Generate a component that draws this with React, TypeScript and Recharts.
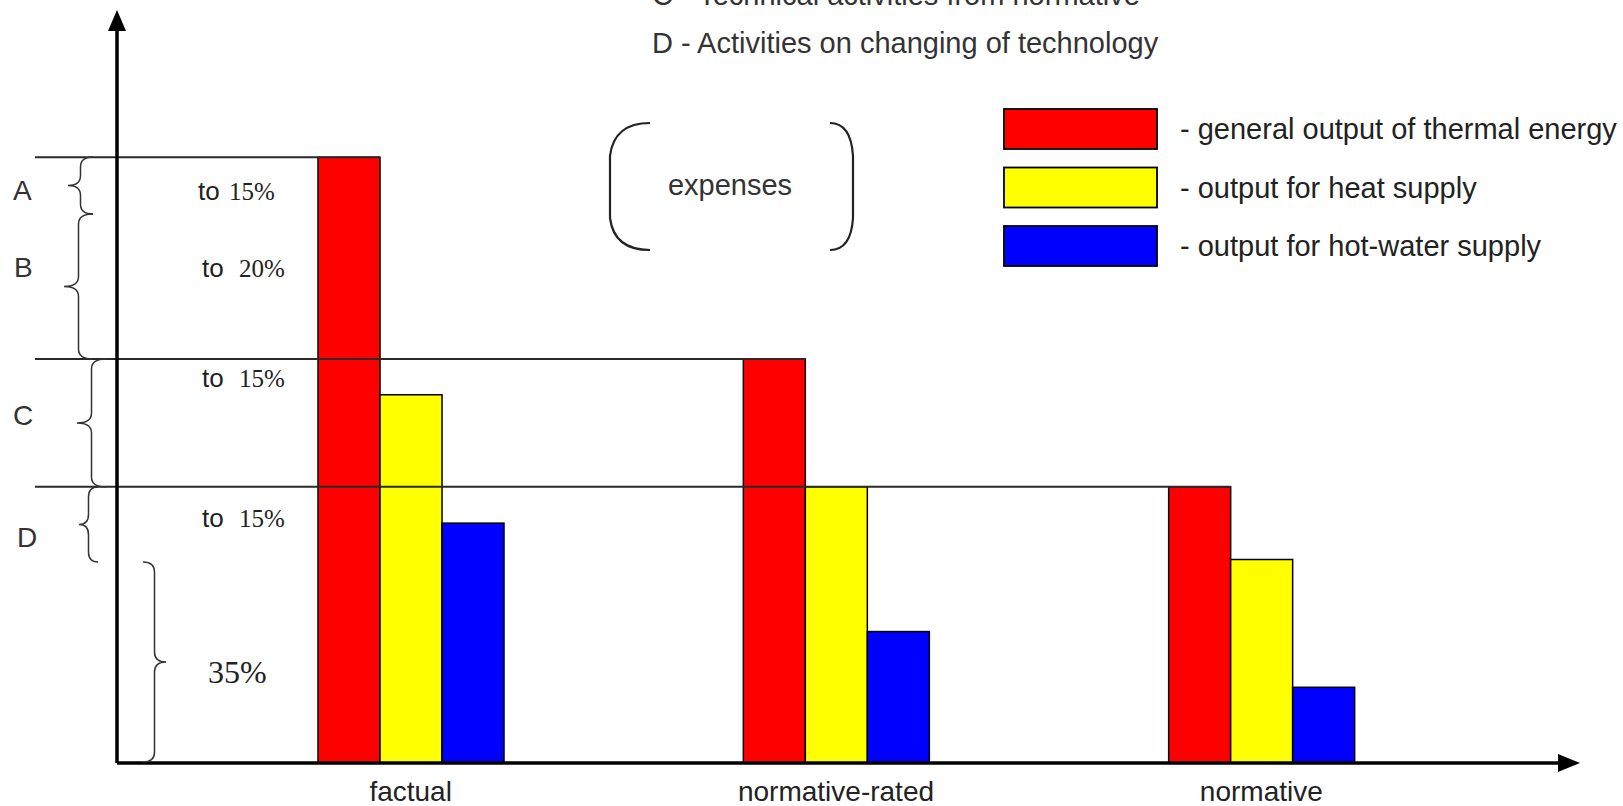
import React from 'react';
import { BarChart, Bar, XAxis, YAxis, Legend } from 'recharts';

// categories and series values (share of factual general output = 100)
const categories = ['factual', 'normative-rated', 'normative'];
const generalOutput = [100, 66.7, 45.6];
const heatSupply = [60.8, 45.6, 33.6];
const hotWaterSupply = [39.6, 21.7, 12.5];

const seriesNames = [
    '- general output of thermal energy',
    '- output for heat supply',
    '- output for hot-water supply',
];
const seriesColors = ['#ff0000', '#ffff00', '#0000ff'];

const topNotes = ['C - Technical activities from normative', 'D - Activities on changing of technology'];
const groupLetters = ['A', 'B', 'C', 'D'];
const groupShares = ['15%', '20%', '15%', '15%'];
const baseShare = '35%';

const data = categories.map((name, i) => ({
    name,
    red: generalOutput[i],
    yellow: heatSupply[i],
    blue: hotWaterSupply[i],
}));

const W = 1623;
const H = 806;
const SANS = '"Liberation Sans", Arial, sans-serif';
const SERIF = '"Liberation Serif", "Times New Roman", serif';

// left-pointing curly brace
const braceLeft = (x: number, y1: number, y2: number, w: number) => {
    const ym = (y1 + y2) / 2;
    const s = x + w / 2;
    const r = Math.min(10, (y2 - y1) / 4);
    return `M${x + w},${y1} Q${s},${y1} ${s},${y1 + r} L${s},${ym - r} Q${s},${ym} ${x},${ym} Q${s},${ym} ${s},${ym + r} L${s},${y2 - r} Q${s},${y2} ${x + w},${y2}`;
};
// right-pointing curly brace
const braceRight = (x: number, y1: number, y2: number, w: number) => {
    const ym = (y1 + y2) / 2;
    const s = x + w / 2;
    const r = Math.min(10, (y2 - y1) / 4);
    return `M${x},${y1} Q${s},${y1} ${s},${y1 + r} L${s},${ym - r} Q${s},${ym} ${x + w},${ym} Q${s},${ym} ${s},${ym + r} L${s},${y2 - r} Q${s},${y2} ${x},${y2}`;
};

// blue bars are drawn last, so they also carry the guide line at the red bar's top
const BlueShape = (props: any) => {
    const { x, y, width, height, payload, fill } = props;
    const base = y + height;
    const redY = base - (height * payload.red) / payload.blue;
    const redRight = x - width;
    return (
        <g>
            <rect x={x} y={y} width={width} height={height} fill={fill} stroke="#000" strokeWidth={1.5} />
            <line x1={35} x2={redRight} y1={redY} y2={redY} stroke="#2a2a2a" strokeWidth={2} />
        </g>
    );
};

const LegendContent = () => (
    <svg width={620} height={170}>
        {seriesNames.map((n, i) => (
            <g key={n} transform={`translate(0, ${i * 58.5})`}>
                <rect x={1} y={1} width={153} height={40} fill={seriesColors[i]} stroke="#000" strokeWidth={1.8} />
                <text x={177} y={31} fontSize={29} fontFamily={SANS} fill="#222">{n}</text>
            </g>
        ))}
    </svg>
);

const App: React.FC = () => {
    const lettersX = [13, 14, 13, 17];
    const lettersY = [200, 277, 425, 547];
    const toX = [198, 202, 202, 202];
    const shareX = [229, 239, 239, 239];
    const sharesY = [200, 277, 387, 527];
    return (
        <div style={{ position: 'absolute', left: 0, top: 0, width: W, height: H, background: '#fff' }}>
            <BarChart
                width={W}
                height={H}
                data={data}
                margin={{ top: 24, right: 50, bottom: 0, left: 116 }}
                barSize={62}
                barGap={0}
            >
                <XAxis
                    dataKey="name"
                    height={43}
                    padding={{ left: 81, right: 99 }}
                    axisLine={{ stroke: '#000', strokeWidth: 3.5 }}
                    tickLine={false}
                    tickMargin={12}
                    tick={{ fontSize: 28, fontFamily: SANS, fill: '#222' }}
                />
                <YAxis
                    domain={[0, 122]}
                    width={1}
                    tick={false}
                    tickLine={false}
                    axisLine={{ stroke: '#000', strokeWidth: 3.5 }}
                />
                <Legend
                    layout="horizontal"
                    verticalAlign="middle"
                    align="center"
                    wrapperStyle={{ position: 'absolute', left: 1003, top: 108, width: 620, height: 170 }}
                    content={<LegendContent />}
                />
                <Bar dataKey="red" name={seriesNames[0]} fill={seriesColors[0]} stroke="#000" strokeWidth={1.5} isAnimationActive={false} />
                <Bar dataKey="yellow" name={seriesNames[1]} fill={seriesColors[1]} stroke="#000" strokeWidth={1.5} isAnimationActive={false} />
                <Bar dataKey="blue" name={seriesNames[2]} fill={seriesColors[2]} shape={<BlueShape />} isAnimationActive={false} />
            </BarChart>
            <svg width={W} height={H} style={{ position: 'absolute', left: 0, top: 0, pointerEvents: 'none' }}>
                {/* axis arrow heads */}
                <polygon points="117,10 108,31 126,31" fill="#000" />
                <polygon points="1580,763 1558,754 1558,772" fill="#000" />
                {/* top notes */}
                <text x={652} y={5} fontSize={29} fontFamily={SANS} fill="#333">{topNotes[0]}</text>
                <text x={652} y={53} fontSize={29} fontFamily={SANS} fill="#333">{topNotes[1]}</text>
                {/* expenses in brackets */}
                <path d="M650,123 Q614,123 610,156 L610,218 Q614,250 650,250" fill="none" stroke="#222" strokeWidth={2.2} />
                <path d="M830,123 Q851,123 853,156 L853,218 Q851,250 830,250" fill="none" stroke="#222" strokeWidth={2.2} />
                <text x={730} y={195} fontSize={29} fontFamily={SANS} fill="#333" textAnchor="middle">expenses</text>
                {/* group braces */}
                <path d={braceLeft(68, 157, 214, 25)} fill="none" stroke="#333" strokeWidth={1.5} />
                <path d={braceLeft(64, 214, 359, 29)} fill="none" stroke="#333" strokeWidth={1.5} />
                <path d={braceLeft(77, 359, 487, 29)} fill="none" stroke="#333" strokeWidth={1.5} />
                <path d={braceLeft(79, 487, 562, 19)} fill="none" stroke="#333" strokeWidth={1.5} />
                <path d={braceRight(143, 562, 762, 23)} fill="none" stroke="#333" strokeWidth={1.5} />
                {groupLetters.map((l, i) => (
                    <text key={l} x={lettersX[i]} y={lettersY[i]} fontSize={28} fontFamily={SANS} fill="#333">{l}</text>
                ))}
                {groupShares.map((s, i) => (
                    <text key={i} y={sharesY[i]} fill="#222">
                        <tspan x={toX[i]} fontSize={26} fontFamily={SANS}>to</tspan>
                        <tspan x={shareX[i]} fontSize={25} fontFamily={SERIF}>{s}</tspan>
                    </text>
                ))}
                <text x={208} y={683} fontSize={32} fontFamily={SERIF} fill="#222">{baseShare}</text>
            </svg>
        </div>
    );
};

export default App;
